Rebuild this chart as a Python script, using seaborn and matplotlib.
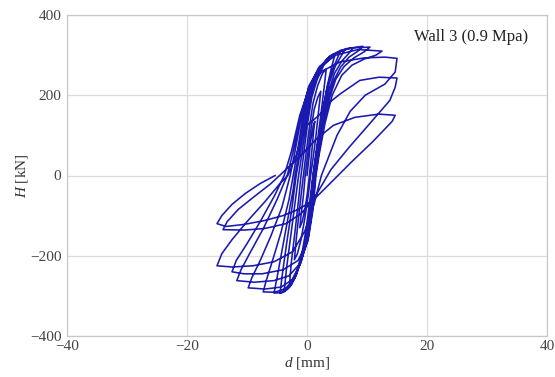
import numpy as np
import pandas as pd
import seaborn as sns
import matplotlib
matplotlib.use("Agg")
import matplotlib.pyplot as plt

# hysteresis path, one cycle per pair of lists
# (d in mm, H in kN): push to +peak, unload, push to -peak, unload
d_c1 = [0.0, 0.3, 0.6, 1.0, 1.3, 1.1, 0.8, 0.4, 0.1, -0.3, -0.8, -1.2, -1.0, -0.6, -0.3]
H_c1 = [0, 40, 85, 120, 135, 110, 60, 0, -40, -80, -115, -130, -100, -50, 0]
d_c2 = [0.1, 0.6, 1.2, 1.8, 2.3, 2.0, 1.5, 0.9, 0.6, 0.2, -0.4, -1.0, -1.6, -2.1, -1.8, -1.3, -0.8, -0.6]
H_c2 = [50, 110, 165, 195, 210, 170, 100, 30, 0, -50, -110, -160, -195, -210, -160, -90, -25, 0]
d_c3 = [-0.2, 0.4, 1.0, 1.8, 2.6, 3.2, 2.9, 2.3, 1.6, 1.0, 0.5, -0.1, -0.8, -1.6, -2.3, -2.9, -2.6, -2.0, -1.4, -1.0]
H_c3 = [50, 120, 180, 225, 255, 265, 225, 150, 70, 0, -60, -130, -190, -235, -258, -268, -215, -140, -60, 0]
d_c4 = [-0.5, 0.1, 0.8, 1.7, 2.8, 4.0, 4.6, 4.1, 3.4, 2.6, 1.8, 1.0,
        0.6, 0.0, -0.8, -1.7, -2.6, -3.4, -3.8, -3.4, -2.7, -1.9, -1.4]
H_c4 = [60, 130, 195, 240, 275, 292, 298, 270, 225, 160, 80, 0,
        -70, -140, -200, -245, -273, -285, -288, -230, -150, -60, 0]
d_c5 = [-0.8, -0.1, 0.7, 1.8, 3.0, 4.5, 5.5, 5.0, 4.2, 3.3, 2.5, 1.8, 1.1,
        0.6, 0.0, -0.9, -1.9, -2.9, -3.8, -4.5, -4.1, -3.4, -2.5, -1.8]
H_c5 = [60, 135, 200, 250, 283, 303, 308, 290, 262, 215, 150, 75, 0,
        -70, -145, -205, -250, -278, -290, -294, -245, -170, -80, 0]
d_c6 = [-1.1, -0.3, 0.6, 1.8, 3.2, 5.0, 6.3, 5.7, 4.7, 3.7, 2.8, 2.0, 1.3, 1.1,
        0.7, 0.0, -0.9, -2.0, -3.2, -4.4, -5.5, -5.0, -4.2, -3.2, -2.3, -2.0]
H_c6 = [60, 140, 205, 255, 288, 307, 313, 298, 272, 230, 170, 95, 20, 0,
        -75, -150, -210, -255, -282, -292, -293, -255, -190, -110, -35, 0]
d_c7 = [-1.3, -0.5, 0.5, 1.8, 3.5, 5.6, 7.7, 7.0, 5.8, 4.6, 3.6, 2.7, 1.9, 1.3,
        0.8, 0.1, -1.0, -2.2, -3.6, -5.4, -7.3, -6.8, -5.7, -4.3, -3.0, -2.3]
H_c7 = [60, 140, 210, 260, 293, 312, 318, 305, 285, 255, 210, 145, 65, 0,
        -80, -155, -215, -258, -282, -291, -290, -262, -210, -140, -60, 0]
d_c8 = [-1.6, -0.7, 0.4, 1.9, 3.8, 6.5, 9.3, 8.5, 7.0, 5.6, 4.4, 3.4, 2.5, 1.7, 1.3,
        0.8, 0.1, -1.1, -2.5, -4.3, -7.0, -9.8, -9.2, -7.8, -6.0, -4.2, -2.8]
H_c8 = [60, 145, 215, 265, 298, 316, 322, 310, 295, 270, 235, 185, 110, 30, 0,
        -85, -160, -220, -260, -278, -283, -280, -255, -212, -150, -80, 0]
d_c9 = [-2.0, -0.9, 0.3, 2.0, 4.3, 7.3, 10.5, 9.5, 7.8, 6.2, 4.8, 3.8, 2.7, 1.8, 1.4,
        0.9, 0.1, -1.2, -3.0, -5.5, -8.8, -11.7, -11.0, -9.4, -7.2, -5.0, -3.3]
H_c9 = [60, 150, 220, 270, 302, 318, 320, 308, 293, 272, 240, 195, 120, 40, 0,
        -85, -165, -220, -250, -262, -266, -262, -235, -190, -130, -60, 0]
d_c10 = [-2.3, -1.0, 0.3, 2.2, 4.8, 8.5, 12.5, 11.5, 9.5, 7.5, 5.8, 4.2, 3.0, 2.0, 1.5,
         1.0, 0.2, -1.5, -4.0, -7.5, -10.5, -12.5, -11.8, -10.0, -7.8, -5.4, -3.8]
H_c10 = [60, 150, 222, 272, 300, 314, 310, 300, 290, 275, 250, 200, 130, 50, 0,
         -85, -160, -212, -235, -245, -245, -240, -212, -170, -115, -50, 0]
d_c11 = [-2.6, -1.2, 0.4, 2.5, 5.5, 9.5, 13.0, 15.0, 14.7, 13.0, 9.7, 7.2, 5.0, 3.3, 2.4,
         1.2, -0.4, -2.4, -5.5, -9.0, -12.5, -15.0, -14.2, -12.5, -10.0, -7.0, -4.5, -3.2]
H_c11 = [60, 150, 220, 260, 283, 293, 295, 292, 258, 228, 200, 160, 100, 35, 0,
         -70, -140, -190, -215, -225, -228, -225, -195, -160, -115, -65, -20, 0]
d_c12 = [-1.8, -0.4, 2.0, 4.0, 5.5, 8.8, 12.0, 15.0, 14.7, 13.8, 10.5, 7.0, 4.0, 1.0,
         -1.0, -3.5, -7.0, -10.5, -14.0, -13.3, -11.5, -9.0, -6.0, -3.5]
H_c12 = [50, 120, 150, 185, 203, 237, 245, 243, 220, 187, 130, 70, 15, -62,
         -95, -120, -132, -136, -135, -115, -85, -55, -20, 15]
d_c13 = [-1.0, 1.5, 4.4, 8.0, 12.0, 14.7, 14.2, 11.0, 7.5, 4.5, 1.0,
         -1.5, -4.0, -7.0, -10.5, -13.5, -15.0, -14.2, -12.5, -10.3, -7.8, -5.3]
H_c13 = [50, 90, 125, 145, 153, 150, 135, 85, 35, -10, -62,
         -85, -100, -112, -122, -127, -120, -100, -72, -45, -20, 0]

d_cycles = [d_c1, d_c2, d_c3, d_c4, d_c5, d_c6, d_c7, d_c8, d_c9, d_c10, d_c11, d_c12, d_c13]
H_cycles = [H_c1, H_c2, H_c3, H_c4, H_c5, H_c6, H_c7, H_c8, H_c9, H_c10, H_c11, H_c12, H_c13]

label_text = "Wall 3 (0.9 Mpa)"
x_ticks = [-40, -20, 0, 20, 40]
y_ticks = [-400, -200, 0, 200, 400]

# one continuous path
df = pd.DataFrame({"d": np.concatenate(d_cycles), "H": np.concatenate(H_cycles)})

sns.set_style("whitegrid")
plt.rcParams["font.family"] = ["Liberation Serif", "DejaVu Serif"]
plt.rcParams["mathtext.fontset"] = "custom"
plt.rcParams["mathtext.rm"] = "Liberation Serif"
plt.rcParams["mathtext.it"] = "Liberation Serif:italic"

fig = plt.figure(figsize=(5.55, 3.77), dpi=100)
ax = fig.add_axes([67 / 555, 1 - 336 / 377, 480 / 555, 321 / 377])

sns.lineplot(data=df, x="d", y="H", sort=False, estimator=None,
             color="#1a1ab0", linewidth=1.15, ax=ax)

ax.set_xlim(-40, 40)
ax.set_ylim(-400, 400)
ax.set_xticks(x_ticks)
ax.set_yticks(y_ticks)
ax.grid(True, color="#dcdcdc", linewidth=0.9)
for s in ax.spines.values():
    s.set_color("#c8c8c8")
    s.set_linewidth(0.9)
ax.tick_params(axis="both", labelsize=11, colors="#c8c8c8", labelcolor="#444444",
               length=3, width=0.8, pad=1)
ax.tick_params(axis="x", length=0, pad=3)

ax.set_xlabel("$d$ [mm]", fontsize=11, color="#333333", labelpad=1)
ax.set_ylabel("$H$ [kN]", fontsize=11, color="#333333", labelpad=0)

ax.text(0.96, 0.931, label_text, transform=ax.transAxes, ha="right", va="center",
        fontsize=12, color="#222222")

fig.savefig("out.png", dpi=100)
